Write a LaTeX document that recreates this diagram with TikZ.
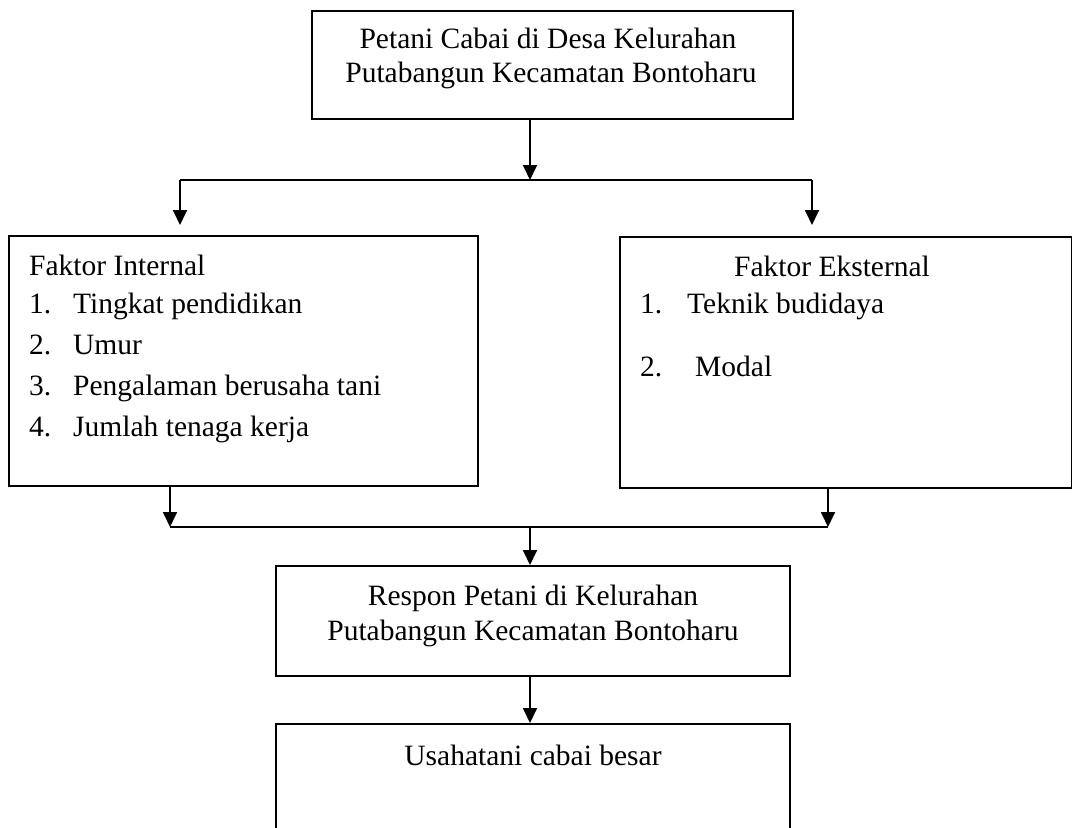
\documentclass[tikz,border=0pt]{standalone}
\usepackage{fontspec}
\setmainfont{Liberation Serif}
\usetikzlibrary{arrows.meta}
\tikzset{
  kotak/.style={draw, line width=1.8pt, inner sep=0pt, anchor=north west},
  teks/.style={inner sep=0pt, font=\fontsize{29.5}{48}\selectfont},
  kiri/.style={teks, anchor=base west},
  tengah/.style={teks, anchor=base},
  panah/.style={line width=1.8pt, -{Triangle[length=15pt,width=14pt]}},
  garis/.style={line width=1.8pt}
}
\begin{document}
\begin{tikzpicture}[x=1pt,y=-1pt]
      \useasboundingbox (0,0) rectangle (1072,828);
      \clip (0,0) rectangle (1072,828);
      \node[kotak, minimum width=481pt, minimum height=108pt] (petani) at (311,10) {};
      \node[kotak, minimum width=469pt, minimum height=250pt] (internal) at (8,235) {};
      \node[kotak, minimum width=452pt, minimum height=251pt] (eksternal) at (619,236) {};
      \node[kotak, minimum width=514pt, minimum height=110pt] (respon) at (275,565) {};
      \node[kotak, minimum width=514pt, minimum height=130pt] (usahatani) at (275,723) {};
      \draw
        (548,48) node[tengah] (petani1) {Petani Cabai di Desa Kelurahan}
        (551,82) node[tengah] (petani2) {Putabangun Kecamatan Bontoharu}
        (29,275) node[kiri] (int0) {Faktor Internal}
        (29,313) node[kiri] (intn1) {1.}
        (73,313) node[kiri] (int1) {Tingkat pendidikan}
        (29,354) node[kiri] (intn2) {2.}
        (73,354) node[kiri] (int2) {Umur}
        (29,395) node[kiri] (intn3) {3.}
        (73,395) node[kiri] (int3) {Pengalaman berusaha tani}
        (29,436) node[kiri] (intn4) {4.}
        (73,436) node[kiri] (int4) {Jumlah tenaga kerja}
        (832,276) node[tengah] (eks0) {Faktor Eksternal}
        (640,313) node[kiri] (eksn1) {1.}
        (687,313) node[kiri] (eks1) {Teknik budidaya}
        (640,376) node[kiri] (eksn2) {2.}
        (695,376) node[kiri] (eks2) {Modal}
        (533,605) node[tengah] (respon1) {Respon Petani di Kelurahan}
        (533,640) node[tengah] (respon2) {Putabangun Kecamatan Bontoharu}
        (533,765) node[tengah] (usaha1) {Usahatani cabai besar};
      \coordinate (atas) at (530,118);
      \coordinate (cabang) at (530,180);
      \coordinate (cabangL) at (180,180);
      \coordinate (cabangR) at (812,180);
      \coordinate (masukL) at (180,225);
      \coordinate (masukR) at (812,225);
      \coordinate (keluarL) at (170,485);
      \coordinate (keluarR) at (828,487);
      \coordinate (gabungL) at (170,527);
      \coordinate (gabungR) at (828,527);
      \coordinate (gabung) at (530,527);
      \coordinate (respon-in) at (530,565);
      \coordinate (respon-out) at (530,675);
      \coordinate (usaha-in) at (530,723);
      \begin{scope}[garis]
        \draw[panah] (atas) to (cabang);
        \draw (cabangL) to (cabangR);
        \draw[panah] (cabangL) to (masukL);
        \draw[panah] (cabangR) to (masukR);
        \draw[panah] (keluarL) to (gabungL);
        \draw[panah] (keluarR) to (gabungR);
        \draw (gabungL) to (gabungR);
        \draw[panah] (gabung) to (respon-in);
        \draw[panah] (respon-out) to (usaha-in);
      \end{scope}
    \end{tikzpicture}
\end{document}
